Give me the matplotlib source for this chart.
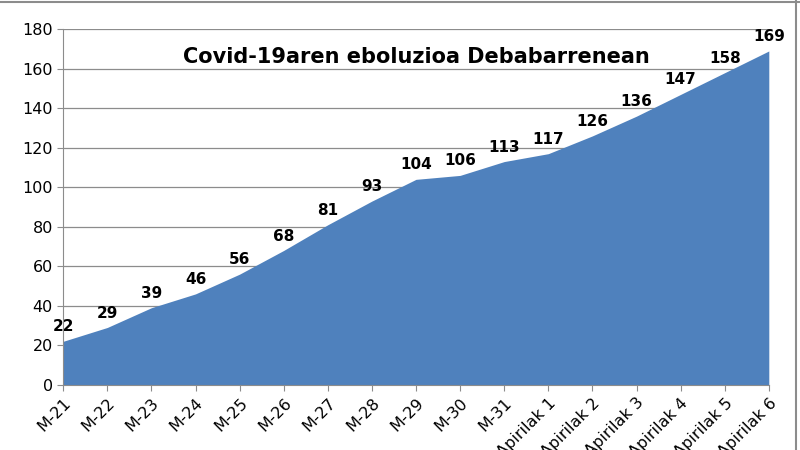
import matplotlib
matplotlib.use("Agg")
import matplotlib.pyplot as plt

dates = ["M-21", "M-22", "M-23", "M-24", "M-25", "M-26", "M-27", "M-28", "M-29",
         "M-30", "M-31", "Apirilak 1", "Apirilak 2", "Apirilak 3", "Apirilak 4",
         "Apirilak 5", "Apirilak 6"]
cases = [22, 29, 39, 46, 56, 68, 81, 93, 104, 106, 113, 117, 126, 136, 147, 158, 169]

fig = plt.figure(figsize=(8, 4.5), dpi=100)
ax = fig.add_axes([0.079, 0.145, 0.882, 0.79])
x = range(len(cases))
ax.fill_between(x, cases, 0, color="#4F81BD", lw=0, zorder=2)
ax.set_xlim(0, len(cases) - 1)
ax.set_ylim(0, 180)
ax.set_yticks(range(0, 181, 20))
ax.grid(axis="y", color="#8c8c8c", lw=0.9, zorder=0)
for s in ["top", "right"]:
    ax.spines[s].set_visible(False)
ax.spines["left"].set_color("#8c8c8c")
ax.spines["bottom"].set_color("#8c8c8c")
ax.tick_params(labelsize=11.5, length=4, color="#8c8c8c")
ax.set_xticks(list(x))
ax.set_xticklabels(dates, rotation=45, ha="right", rotation_mode="anchor")
for i, v in zip(x, cases):
    ax.annotate(str(v), (i, v), xytext=(0, 5), textcoords="offset points",
                ha="center", va="bottom", fontsize=11, fontweight="bold", zorder=3,
                annotation_clip=False)
ax.text(0.5, 0.95, "Covid-19aren eboluzioa Debabarrenean", transform=ax.transAxes,
        ha="center", va="top", fontsize=15, fontweight="bold")
fig.add_artist(plt.Line2D([0, 1], [0.995, 0.995], color="#8c8c8c", lw=1.5))
fig.add_artist(plt.Line2D([0.995, 0.995], [0, 1], color="#8c8c8c", lw=1.5))
fig.savefig("out.png", dpi=100)
